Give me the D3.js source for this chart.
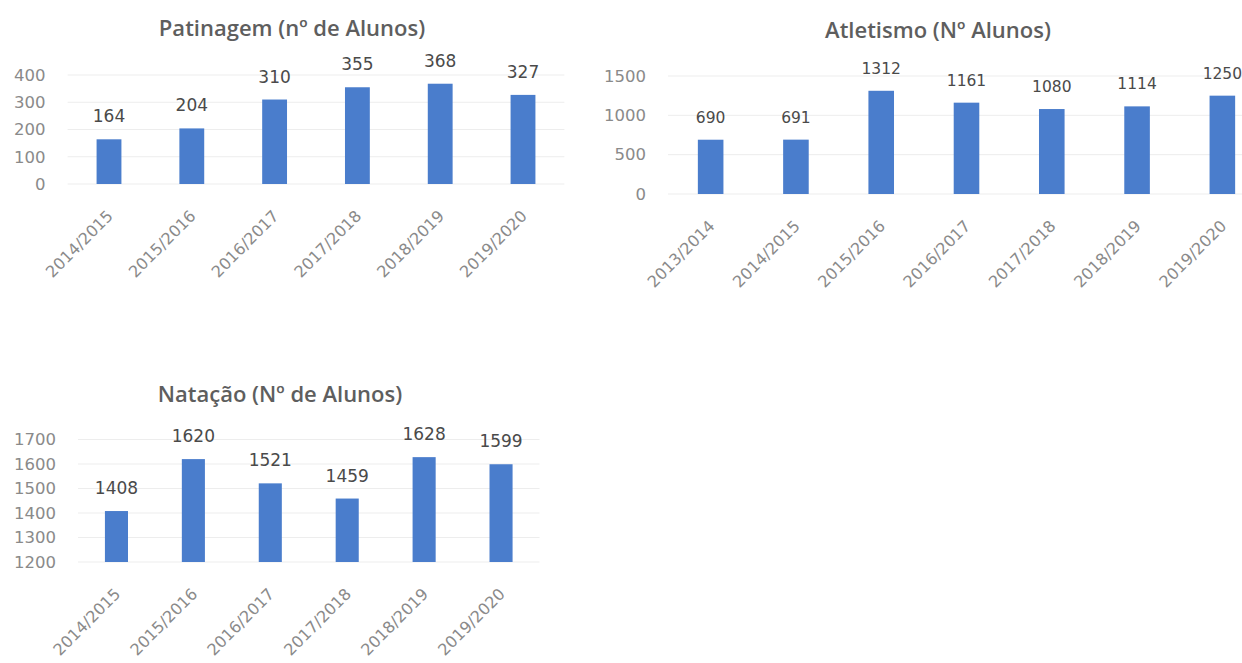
<!DOCTYPE html>
<html>
<head>
<meta charset="utf-8">
<script src="https://cdn.jsdelivr.net/npm/d3@7"></script>
<style>
  html, body { margin: 0; padding: 0; background: #ffffff; }
  svg { display: block; }
  text { font-family: "DejaVu Sans", "Liberation Sans", sans-serif; }
</style>
</head>
<body>
<svg id="chart" width="1242" height="663"></svg>
<script>
// ---------- DATA ----------
const patinagemTitle = "Patinagem (nº de Alunos)";
const patinagemCategories = ["2014/2015", "2015/2016", "2016/2017", "2017/2018", "2018/2019", "2019/2020"];
const patinagemValues = [164, 204, 310, 355, 368, 327];
const patinagemTicks = [0, 100, 200, 300, 400];

const atletismoTitle = "Atletismo (Nº Alunos)";
const atletismoCategories = ["2013/2014", "2014/2015", "2015/2016", "2016/2017", "2017/2018", "2018/2019", "2019/2020"];
const atletismoValues = [690, 691, 1312, 1161, 1080, 1114, 1250];
const atletismoTicks = [0, 500, 1000, 1500];

const natacaoTitle = "Natação (Nº de Alunos)";
const natacaoCategories = ["2014/2015", "2015/2016", "2016/2017", "2017/2018", "2018/2019", "2019/2020"];
const natacaoValues = [1408, 1620, 1521, 1459, 1628, 1599];
const natacaoTicks = [1200, 1300, 1400, 1500, 1600, 1700];

// ---------- LAYOUT / STYLE ----------
const BAR_COLOR = "#4a7dcc";
const GRID_COLOR = "#ededed";
const TICK_COLOR = "#8a8a8a";
const LABEL_COLOR = "#4a4a4a";
const TITLE_COLOR = "#5e5e5e";

const charts = [
  { title: patinagemTitle, categories: patinagemCategories, values: patinagemValues, ticks: patinagemTicks,
    x0: 67.6, x1: 564.4, yBase: 184, yTop: 75, titleX: 292, titleY: 28, labelSize: 17 },
  { title: atletismoTitle, categories: atletismoCategories, values: atletismoValues, ticks: atletismoTicks,
    x0: 668, x1: 1265, yBase: 194, yTop: 76, titleX: 938, titleY: 30, labelSize: 15.5 },
  { title: natacaoTitle, categories: natacaoCategories, values: natacaoValues, ticks: natacaoTicks,
    x0: 78, x1: 539.5, yBase: 562, yTop: 439.5, titleX: 280, titleY: 394, labelSize: 17 }
];

const svg = d3.select("#chart");

charts.forEach(c => {
  const g = svg.append("g");
  const dMin = d3.min(c.ticks), dMax = d3.max(c.ticks);

  const x = d3.scaleBand()
    .domain(c.categories)
    .range([c.x0, c.x1])
    .paddingInner(0.7)
    .paddingOuter(0.35);

  const y = d3.scaleLinear()
    .domain([dMin, dMax])
    .range([c.yBase, c.yTop]);

  // gridlines
  g.append("g").selectAll("line")
    .data(c.ticks)
    .join("line")
    .attr("x1", c.x0).attr("x2", c.x1)
    .attr("y1", d => y(d)).attr("y2", d => y(d))
    .attr("stroke", GRID_COLOR)
    .attr("stroke-width", 1);

  // y axis (labels only)
  const yAxis = d3.axisLeft(y).tickValues(c.ticks).tickFormat(d3.format("d")).tickSize(0).tickPadding(22);
  const ya = g.append("g").attr("transform", `translate(${c.x0},0)`).call(yAxis);
  ya.select(".domain").remove();
  ya.selectAll("text")
    .attr("fill", TICK_COLOR)
    .style("font-size", "16.5px")
    .style("font-family", "'DejaVu Sans', sans-serif");

  // x axis (rotated labels)
  const xAxis = d3.axisBottom(x).tickSize(0).tickPadding(0);
  const xa = g.append("g").attr("transform", `translate(0,${c.yBase})`).call(xAxis);
  xa.select(".domain").remove();
  xa.selectAll("text")
    .attr("fill", TICK_COLOR)
    .style("font-size", "16px")
    .style("font-family", "'DejaVu Sans', sans-serif")
    .attr("text-anchor", "end")
    .attr("dy", null)
    .attr("y", 0)
    .attr("transform", "translate(5,33) rotate(-45)");

  // bars
  g.append("g").selectAll("rect")
    .data(c.values)
    .join("rect")
    .attr("x", (d, i) => x(c.categories[i]))
    .attr("y", d => y(d))
    .attr("width", x.bandwidth())
    .attr("height", d => y(dMin) - y(d))
    .attr("fill", BAR_COLOR);

  // data labels
  g.append("g").selectAll("text")
    .data(c.values)
    .join("text")
    .attr("x", (d, i) => x(c.categories[i]) + x.bandwidth() / 2)
    .attr("y", d => y(d) - 17)
    .attr("text-anchor", "middle")
    .attr("fill", LABEL_COLOR)
    .style("font-size", c.labelSize + "px")
    .text(d => d);

  // title
  g.append("text")
    .attr("x", c.titleX)
    .attr("y", c.titleY)
    .attr("dy", "0.36em")
    .attr("text-anchor", "middle")
    .attr("fill", TITLE_COLOR)
    .style("font-family", "'Open Sans', 'DejaVu Sans', sans-serif")
    .style("font-size", "22px")
    .style("font-weight", "600")
    .text(c.title);
});
</script>
</body>
</html>
